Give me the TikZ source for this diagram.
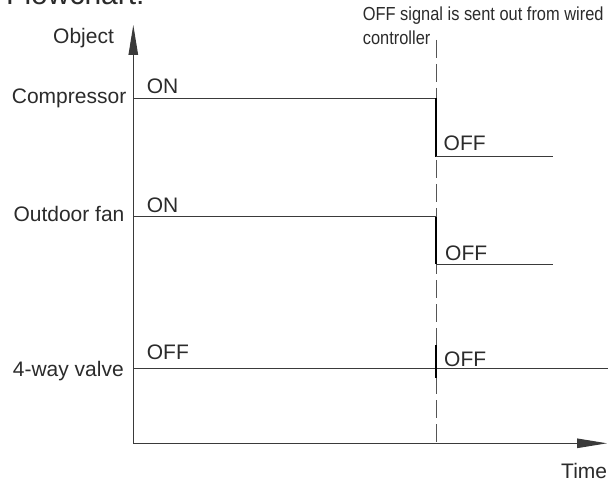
\documentclass[tikz,border=0pt]{standalone}
\usepackage{fontspec}
\setmainfont{Liberation Sans}
\usetikzlibrary{arrows.meta}
\definecolor{txt}{HTML}{2B2B2B}
\definecolor{ln}{HTML}{3A3A3A}
\definecolor{dsh}{HTML}{555555}
\begin{document}
\begin{tikzpicture}[x=1pt,y=-1pt,
  lbl/.style={inner sep=0pt, font=\fontsize{21}{25}\selectfont, text=txt},
  note/.style={inner sep=0pt, font=\fontsize{16.4}{20}\selectfont, text=txt},
  head/.style={inner sep=0pt, font=\fontsize{30}{34}\selectfont, text=txt},
  axis/.style={line width=1pt, draw=ln, -{Triangle[length=30pt,width=9.5pt]}},
  sig/.style={line width=1pt, draw=ln},
  edge/.style={line width=2pt, draw=black},
  cut/.style={line width=1pt, draw=dsh, dash pattern=on 18pt off 6pt}]
\useasboundingbox (0,0) rectangle (608,484);
\clip (0,0) rectangle (608,484);
\fill[white] (0,0) rectangle (608,484);

% heading (cut off at top, as in the reference)
\node[head, anchor=base west] (title) at (6,5) {Flowchart:};

% axes
\coordinate (O) at (133.3,443.3);
\coordinate (Ytip) at (133.3,25);
\coordinate (Xtip) at (607,443.3);
\draw[axis] (O) -- (Ytip);
\draw[axis] (O) -- (Xtip);

% dashed event line
\coordinate (Dtop) at (436,40);
\coordinate (Dbot) at (436,443.3);
\draw[cut] (Dtop) -- (Dbot);

% compressor
\coordinate (c0) at (133.3,98.5);
\coordinate (c1) at (436,98.5);
\coordinate (c2) at (436,156.7);
\coordinate (c3) at (553,156.7);
\draw[sig] (c0) -- (c1);
\draw[edge] (c1) -- (c2);
\draw[sig] (c2) -- (c3);

% outdoor fan
\coordinate (f0) at (133.3,216.5);
\coordinate (f1) at (436,216.5);
\coordinate (f2) at (436,264);
\coordinate (f3) at (553,264);
\draw[sig] (f0) -- (f1);
\draw[edge] (f1) -- (f2);
\draw[sig] (f2) -- (f3);

% 4-way valve
\coordinate (v0) at (133.3,368.5);
\coordinate (v1) at (608,368.5);
\coordinate (va) at (436,345);
\coordinate (vb) at (436,378);
\draw[sig] (v0) -- (v1);
\draw[edge] (va) -- (vb);

% labels
\node[lbl, anchor=base west] (obj) at (53,43.3) {Object};
\node[lbl, anchor=base west] (comp) at (11.7,104) {Compressor};
\node[lbl, anchor=base west] (fan) at (13.3,222) {Outdoor fan};
\node[lbl, anchor=base west] (valve) at (12.7,376.7) {4-way valve};
\node[lbl, anchor=base west] (on1) at (146.7,94) {ON};
\node[lbl, anchor=base west] (on2) at (146.7,212) {ON};
\node[lbl, anchor=base west] (off0) at (146.7,359.3) {OFF};
\node[lbl, anchor=base west] (off1) at (443.5,150) {OFF};
\node[lbl, anchor=base west] (off2) at (445,260) {OFF};
\node[lbl, anchor=base west] (off3) at (444,366) {OFF};
\node[lbl, anchor=base west] (time) at (561,478) {Time};

\node[note, anchor=base west] (n1) at (362.7,20.7) {\scalebox{1}[1.15]{OFF signal is sent out from wired}};
\node[note, anchor=base west] (n2) at (362.7,45) {\scalebox{1}[1.15]{controller}};
\end{tikzpicture}
\end{document}
